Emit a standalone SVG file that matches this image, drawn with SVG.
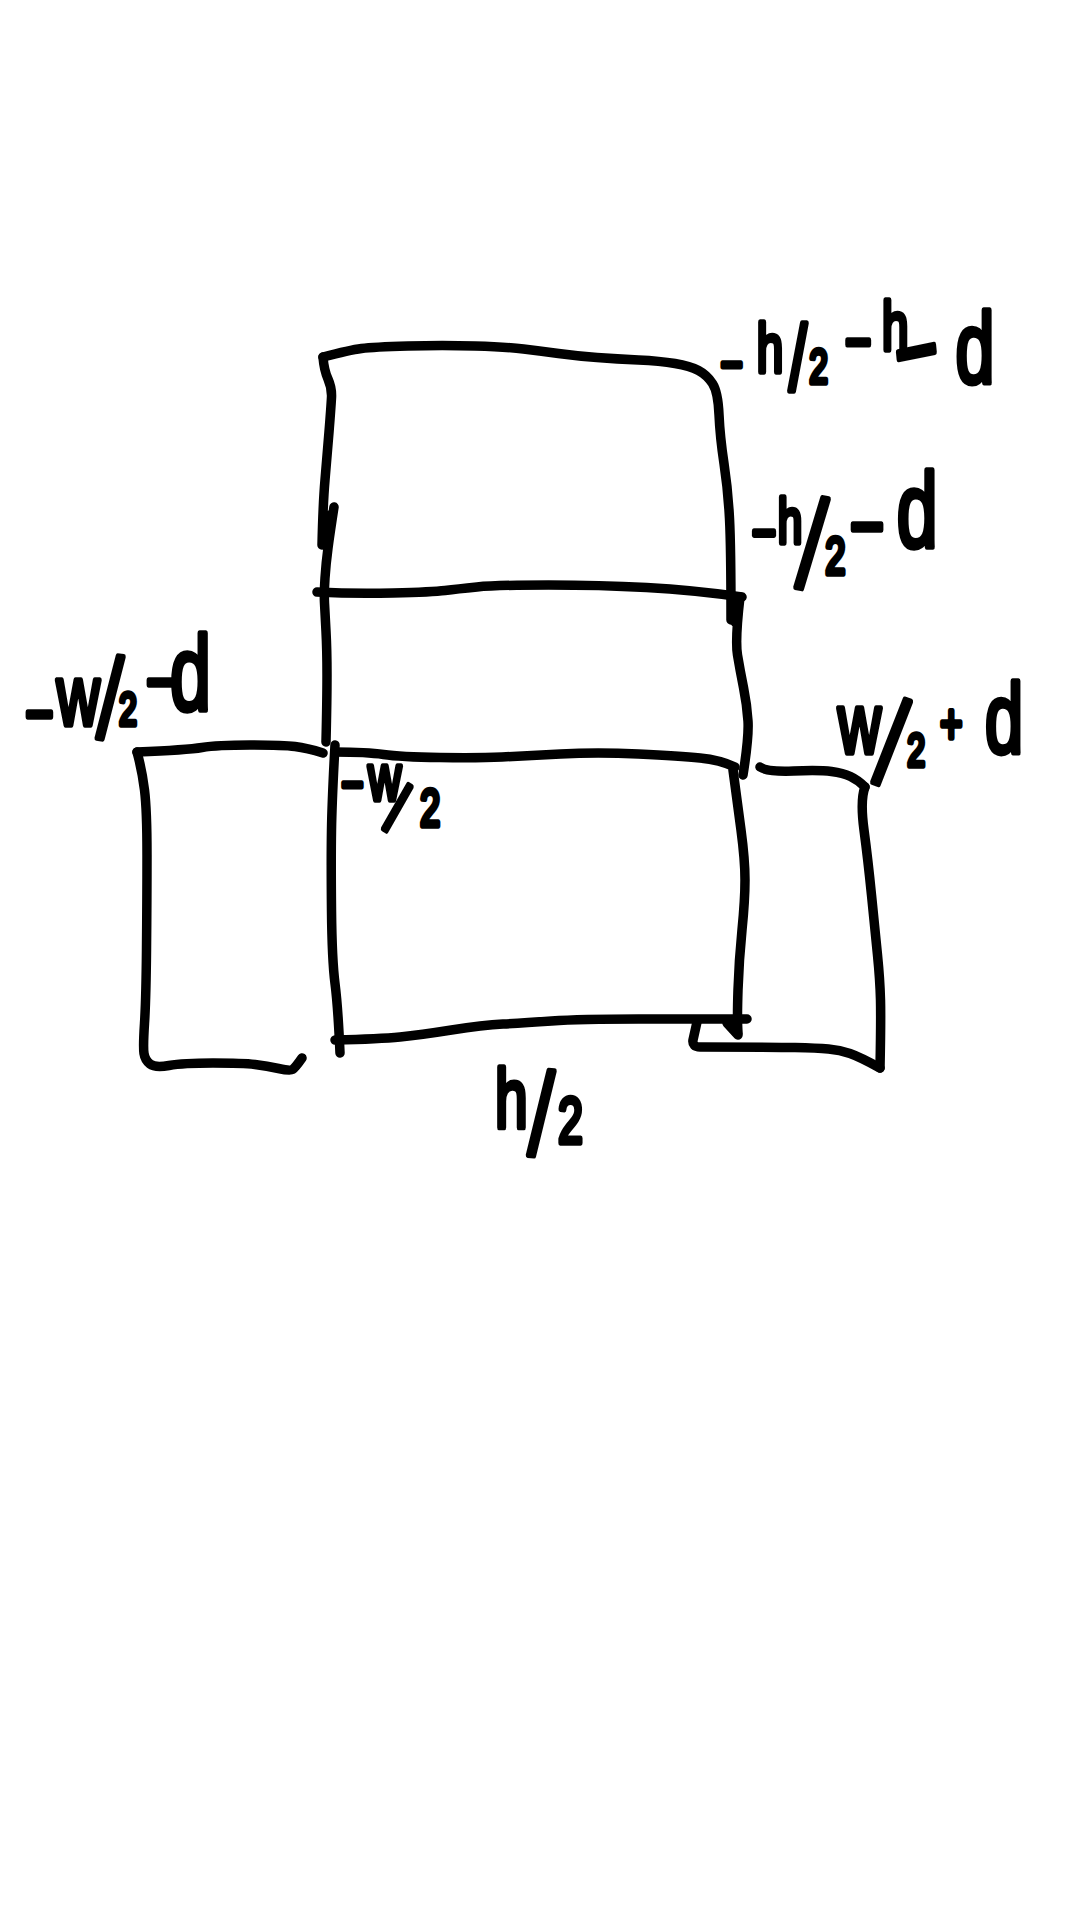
<svg xmlns="http://www.w3.org/2000/svg" width="1080" height="1920" viewBox="0 0 1080 1920">
<style>
.ink{fill:none;stroke:#000;stroke-width:9.5;stroke-linecap:round;stroke-linejoin:round}
.hand{font-family:"Liberation Sans",Arial,sans-serif;font-weight:400;fill:#000;stroke:#000;stroke-width:5.5;stroke-linejoin:round;stroke-linecap:round}
</style>
<rect width="1080" height="1920" fill="#fff"/>
<g id="strokes" class="ink">
<path d="M323 357Q324 370 328 379T331.5 397.5T329 432T325 480T322 545"/>
<path d="M323 357Q350 350 361.5 348.5T408 346T475 346T523.5 349T558.5 353.5T597 357.5T638.5 360T675 363.5T698.5 370.5T712.5 383.5T719 414.5T724 463.5T729.5 518.5T731 620"/>
<path d="M334 507Q330 533 328 548T325 578T324.5 603T326 631.5T327 675T326 742"/>
<path d="M330 515L325 540"/>
<path d="M317 592Q353 594 393 593T445 590.5T477 587T548.5 585T646.5 587.5T742 597"/>
<path d="M740 597Q735 640 737.5 655T743.5 687.5T748 721T743 775"/>
<path d="M735 600L735 622"/>
<path d="M335 752Q367 752 383.5 754.5T440 757.5T502 757T560.5 754T638.5 754T700 758T735 767"/>
<path d="M733 770Q737 800 741 830T745 880T742 930T738 990T738 1033"/>
<path d="M335 745Q332 800 331.5 830T331.5 910T335 983.5T340 1053"/>
<path d="M335 1040Q380 1039 400 1037T451.5 1030T503 1024T551.5 1021T638.5 1019T747 1019"/>
<path d="M727 1023L738 1035"/>
<path d="M323 753Q307 748 295 746.5T250 745T202 747.5T137 752"/>
<path d="M137 752Q142 770 144.5 790T147 855T146.5 950T144.5 1023.5T144 1053.5T150 1064T169 1065.5T213 1063T255 1064.5T278.5 1068.5T292.5 1069.5T302 1058"/>
<path d="M760 767Q767 772 793.5 771T831.5 771.5T850.5 776.5T865 787"/>
<path d="M865 787Q860 800 864 830T871.5 895T877.5 955T880.5 1000T880 1068"/>
<path d="M880 1068Q860 1057 850 1053.5T828.5 1049T795 1047.5T700 1047Q692 1047 693 1040L697 1022"/>
</g>
<g id="label-top">
<text class="hand" transform="scale(.7 1)"><tspan x="1029" y="383" font-size="55">−</tspan><tspan x="1081" y="372" font-size="68">h</tspan><tspan x="1127" y="390" font-size="92">/</tspan><tspan x="1156" y="383" font-size="48">2</tspan><tspan x="1207" y="364" font-size="65">−</tspan><tspan x="1260" y="350" font-size="68">h</tspan><tspan x="1283" y="392" font-size="108" rotate="-8">−</tspan><tspan x="1365" y="383" font-size="100">d</tspan></text>
</g>
<g id="label-upper">
<text class="hand" transform="scale(.7 1)"><tspan x="1074" y="553" font-size="60">−</tspan><tspan x="1111" y="543" font-size="63">h</tspan><tspan x="1136" y="586" font-size="128" rotate="8">/</tspan><tspan x="1179" y="574" font-size="52">2</tspan><tspan x="1214" y="555" font-size="85">−</tspan><tspan x="1281" y="547" font-size="105">d</tspan></text>
</g>
<g id="label-left-outer">
<text class="hand" transform="scale(.7 1)"><tspan x="36" y="738" font-size="70">−</tspan><tspan x="81" y="725" font-size="85">w</tspan><tspan x="138" y="737" font-size="115" rotate="5">/</tspan><tspan x="170" y="725" font-size="46">2</tspan><tspan x="209" y="706" font-size="70">−</tspan><tspan x="243" y="710" font-size="105">d</tspan></text>
</g>
<g id="label-left-inner">
<text class="hand" transform="scale(.7 1)"><tspan x="487" y="803" font-size="55">−</tspan><tspan x="526" y="800" font-size="65">w</tspan><tspan x="547" y="828" font-size="75" rotate="24">/</tspan><tspan x="600" y="826" font-size="52">2</tspan></text>
</g>
<g id="label-right">
<text class="hand" transform="scale(.7 1)"><tspan x="1197" y="753" font-size="85">w</tspan><tspan x="1246" y="781" font-size="125" rotate="14">/</tspan><tspan x="1296" y="766" font-size="46">2</tspan><tspan x="1343" y="743" font-size="55">+</tspan><tspan x="1407" y="752" font-size="98">d</tspan></text>
</g>
<g id="label-bottom">
<text class="hand" transform="scale(.7 1)"><tspan x="707" y="1128" font-size="84">h</tspan><tspan x="754" y="1154" font-size="118" rotate="4">/</tspan><tspan x="797" y="1143" font-size="64">2</tspan></text>
</g>
</svg>
